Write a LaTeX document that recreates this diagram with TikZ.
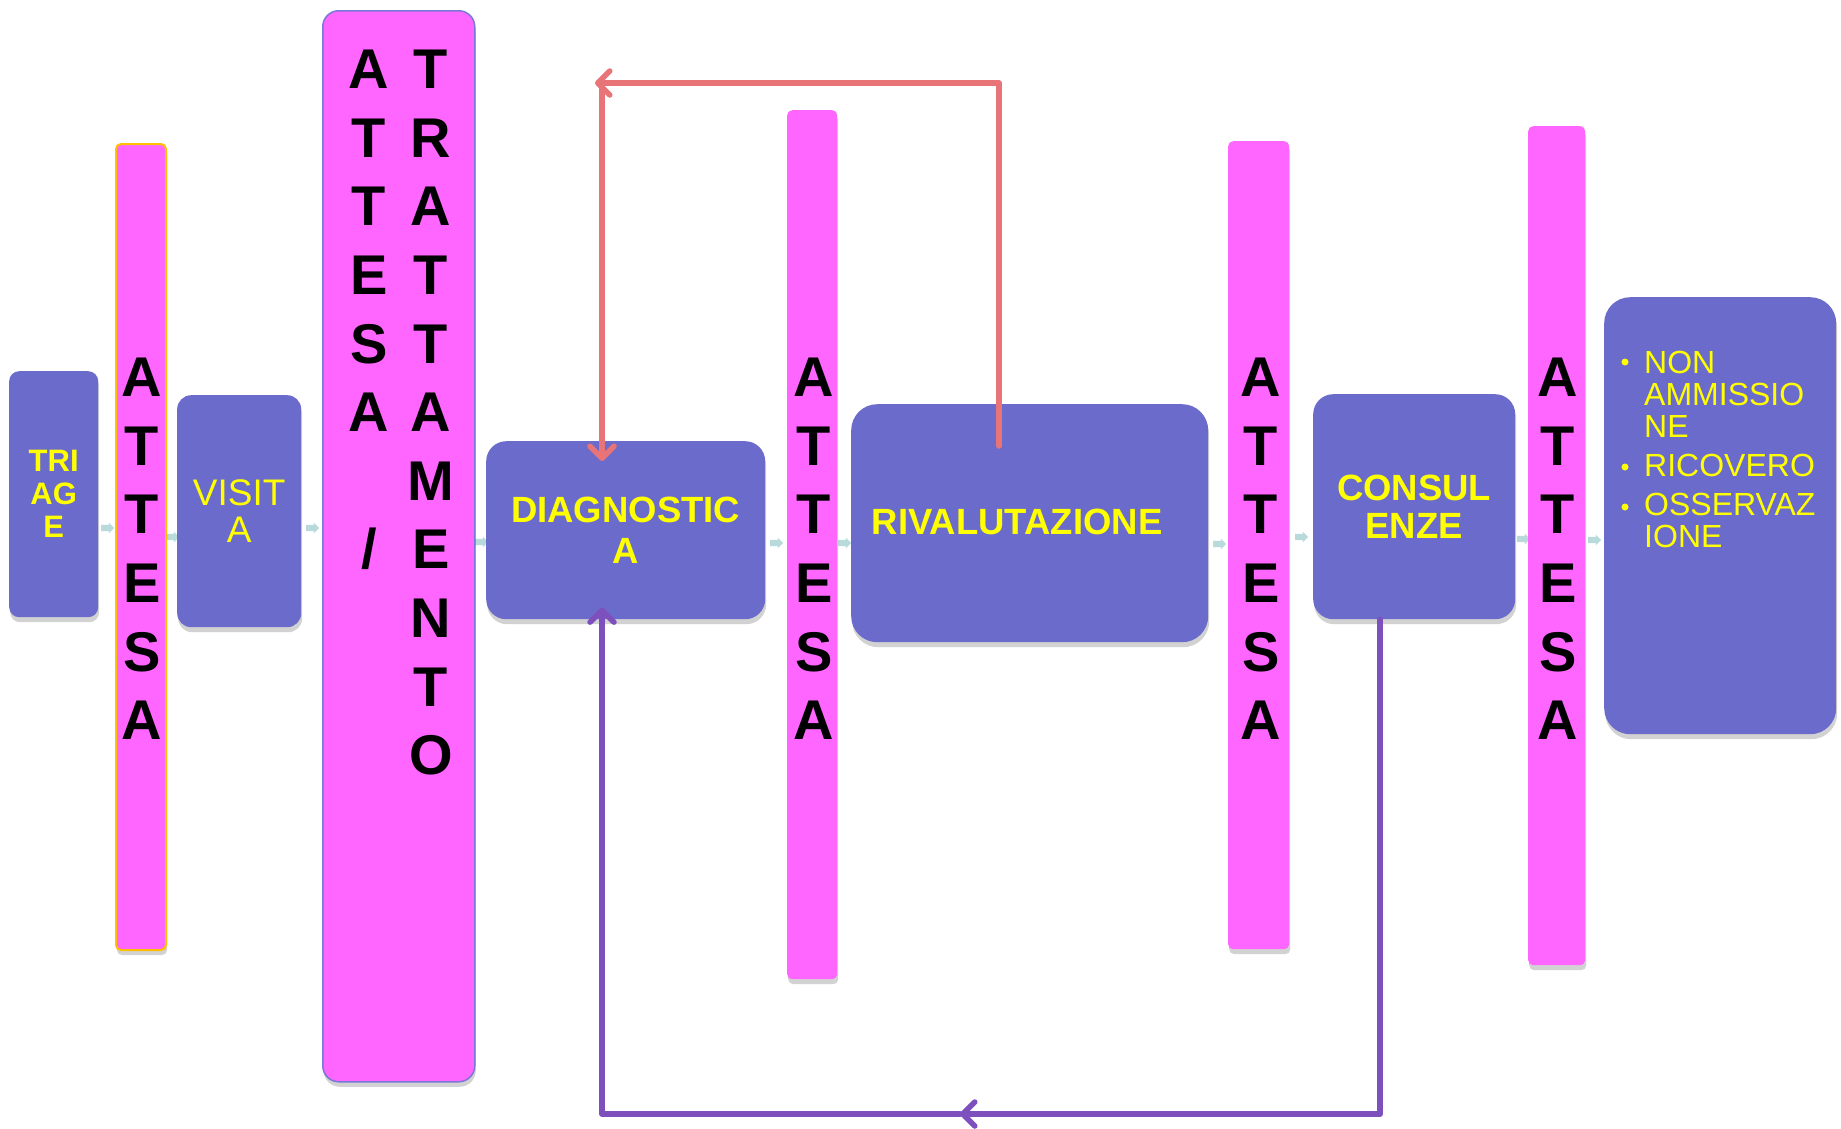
\documentclass[tikz,border=0pt]{standalone}
\usepackage{fontspec}
\setmainfont{Liberation Sans}
\usetikzlibrary{shadows,arrows.meta,shapes.arrows}
\definecolor{boxblue}{RGB}{107,107,203}
\definecolor{barpink}{RGB}{255,102,255}
\definecolor{txtyellow}{RGB}{255,255,0}
\definecolor{redline}{RGB}{232,116,120}
\definecolor{purpline}{RGB}{126,80,190}
\definecolor{faint}{RGB}{185,218,218}
\definecolor{barorange}{RGB}{255,192,0}
\definecolor{bluedge}{RGB}{120,120,215}
\begin{document}
\begin{tikzpicture}[x=1pt,y=-1pt,
 shad/.style={drop shadow={shadow xshift=1pt,shadow yshift=-5pt,opacity=0.25,fill=black!70}},
 bluebox/.style={fill=boxblue,shad,inner sep=0pt,align=center,text=txtyellow,anchor=north west},
 bar/.style={fill=barpink,shad,rounded corners=5pt,inner sep=0pt,anchor=north west},
 letters/.style={font=\fontsize{56}{68.6}\selectfont\bfseries,align=center,inner sep=0pt,anchor=north},
 faintarrow/.style={single arrow,fill=faint,minimum height=13pt,minimum width=10pt,single arrow head extend=2pt,inner sep=0pt},
 conn/.style={line width=5.5pt,line cap=round,line join=round},
 tip/.style={-{Straight Barb[length=12pt,width=24pt,round]}},
 boldtxt/.style={font=\fontsize{36.5}{#1}\selectfont\bfseries},
 regtxt/.style={font=\fontsize{#1}{#1}\selectfont}
]
\useasboundingbox (0,0) rectangle (1841,1128);
\fill[white] (0,0) rectangle (1841,1128);

% faint SmartArt connectors (behind the boxes)
\node[faintarrow] (c1) at (106,528) {\rule{0pt}{6pt}};
\node[faintarrow] (c2) at (171,537) {\rule{0pt}{6pt}};
\node[faintarrow] (c3) at (311,528) {\rule{0pt}{6pt}};
\node[faintarrow] (c4) at (480,542) {\rule{0pt}{6pt}};
\node[faintarrow] (c5) at (775,543) {\rule{0pt}{6pt}};
\node[faintarrow] (c6) at (843,543) {\rule{0pt}{6pt}};
\node[faintarrow] (c7) at (1218,544) {\rule{0pt}{6pt}};
\node[faintarrow] (c8) at (1300,537) {\rule{0pt}{6pt}};
\node[faintarrow] (c9) at (1522,539) {\rule{0pt}{6pt}};
\node[faintarrow] (c10) at (1593,540) {\rule{0pt}{6pt}};

% blue process boxes
\node[bluebox,rounded corners=10pt,minimum width=89pt,minimum height=246pt,
      font=\fontsize{31}{33}\selectfont\bfseries] (triage) at (9,371) {TRI\\AG\\E};
\node[bluebox,rounded corners=14pt,minimum width=124pt,minimum height=232pt,
      regtxt=37] (visita) at (177,395) {VISIT\\A};
\node[bluebox,rounded corners=20pt,minimum width=279pt,minimum height=178pt,
      boldtxt=41] (diag) at (486,441) {DIAGNOSTIC\\A};
\node[bluebox,rounded corners=26pt,minimum width=357pt,minimum height=238pt] (rival) at (851,404) {};
\node[text=txtyellow,boldtxt=40,inner sep=0pt] (rivaltxt) at (1017,522) {RIVALUTAZIONE};
\node[bluebox,rounded corners=20pt,minimum width=202pt,minimum height=225pt,
      boldtxt=38] (consul) at (1313,394) {CONSUL\\ENZE};
\node[bluebox,rounded corners=26pt,minimum width=232pt,minimum height=437pt] (final) at (1604,297) {};
\node[text=txtyellow,regtxt=32,align=left,inner sep=0pt,anchor=north west] (fintext) at (1644,350.5)
  {NON\\AMMISSIO\\NE\\[7pt]RICOVERO\\[7pt]OSSERVAZ\\IONE};
\fill[txtyellow] (1625,362) circle (3.5);
\fill[txtyellow] (1625,467) circle (3.5);
\fill[txtyellow] (1625,507) circle (3.5);

% pink waiting bars
\node[bar,draw=barorange,line width=2pt,minimum width=50pt,minimum height=806pt] (att1) at (115,143) {};
\node[bar,draw=bluedge,line width=1.5pt,rounded corners=16pt,minimum width=152pt,minimum height=1071pt] (atttrat) at (322,10) {};
\node[bar,minimum width=50pt,minimum height=869pt] (att2) at (787,110) {};
\node[bar,minimum width=61pt,minimum height=808pt] (att3) at (1228,141) {};
\node[bar,minimum width=57pt,minimum height=839pt] (att4) at (1528,126) {};

\node[letters] (l1) at (142,358) {A\\T\\T\\E\\S\\A};
\node[letters] (l2) at (814,358) {A\\T\\T\\E\\S\\A};
\node[letters] (l3) at (1261,358) {A\\T\\T\\E\\S\\A};
\node[letters] (l4) at (1558,358) {A\\T\\T\\E\\S\\A};
\node[letters] (ltl) at (369,50) {A\\T\\T\\E\\S\\A\\\mbox{}\\/};
\node[letters] (ltr) at (431,50) {T\\R\\A\\T\\T\\A\\M\\E\\N\\T\\O};

% red loop: RIVALUTAZIONE -> DIAGNOSTICA
\coordinate (rc) at (602,83);
\draw[conn,draw=redline,tip] ([xshift=-30.5pt,yshift=-42pt]rival.north) |- ([xshift=-7pt]rc);
\draw[conn,draw=redline,tip] (rc) -- ([yshift=-20pt]diag.north -| rc);

% purple loop: CONSULENZE -> DIAGNOSTICA
\coordinate (pm) at (960,1114);
\draw[conn,draw=purpline,tip] ([xshift=-34pt]consul.south) |- (pm);
\draw[conn,draw=purpline,tip] (pm) -| ([yshift=12pt]diag.south -| rc);
\end{tikzpicture}
\end{document}
